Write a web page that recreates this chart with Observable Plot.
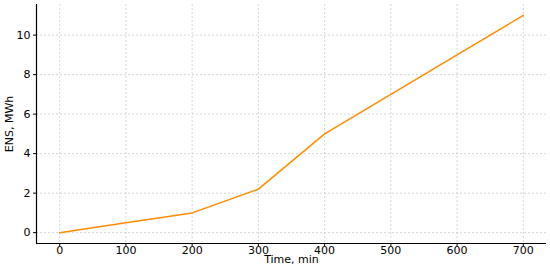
<!DOCTYPE html>
<html><head><meta charset="utf-8">
<script src="https://cdn.jsdelivr.net/npm/d3@7"></script>
<script src="https://cdn.jsdelivr.net/npm/@observablehq/plot@0.6"></script>
<style>body{margin:0;background:#fff}</style>
</head><body><div id="c"></div>
<script>
const time = [0, 100, 200, 300, 400, 500, 600, 700];
const ens = [0, 0.5, 1, 2.2, 5, 7, 9, 11];
const xTicks = [0, 100, 200, 300, 400, 500, 600, 700];
const yTicks = [0, 2, 4, 6, 8, 10];
const data = time.map((t, i) => ({t, e: ens[i]}));
const chart = Plot.plot({
  width: 550, height: 267,
  marginLeft: 36, marginRight: 4, marginTop: 4, marginBottom: 24,
  style: {fontFamily: "DejaVu Sans", fontSize: "11px", color: "#000", background: "#fff"},
  x: {domain: [-35, 735]},
  y: {domain: [-0.55, 11.55]},
  marks: [
    Plot.gridX(xTicks, {stroke: "#bbb", strokeOpacity: 0.6, strokeDasharray: "2,2"}),
    Plot.gridY(yTicks, {stroke: "#bbb", strokeOpacity: 0.6, strokeDasharray: "2,2"}),
    Plot.axisX({ticks: xTicks, tickSize: 3, tickPadding: 0, fontSize: 11, label: "Time, min", labelAnchor: "center", labelArrow: "none", labelOffset: 19}),
    Plot.axisY({ticks: yTicks, tickSize: 3, tickPadding: 3, fontSize: 11, label: "ENS, MWh", labelAnchor: "center", labelArrow: "none", labelOffset: 31}),
    Plot.ruleX([-35], {stroke: "#000", strokeWidth: 1.2}),
    Plot.ruleY([-0.55], {stroke: "#000", strokeWidth: 1.2}),
    Plot.line(data, {x: "t", y: "e", stroke: "#ff8c00", strokeWidth: 1.5})
  ]
});
document.getElementById("c").appendChild(chart);
</script></body></html>
